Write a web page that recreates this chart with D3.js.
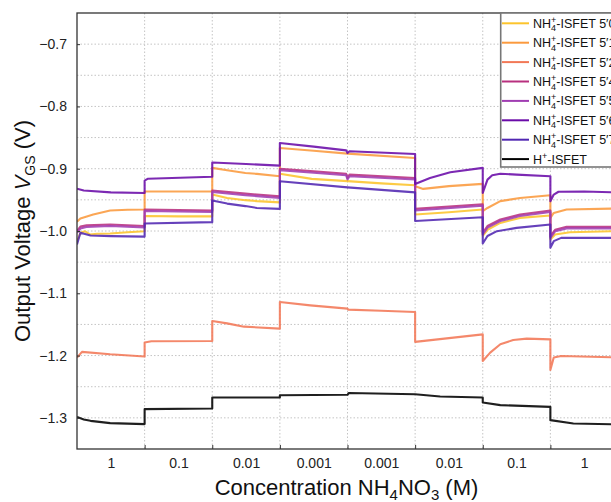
<!DOCTYPE html>
<html>
<head>
<meta charset="utf-8">
<script src="https://cdn.jsdelivr.net/npm/d3@7"></script>
<style>
  html, body { margin: 0; padding: 0; background: #fff; overflow: hidden; }
  svg { display: block; font-family: "Liberation Sans", Arial, sans-serif; }
  .grid line { stroke: #c4c4c4; stroke-width: 1; stroke-dasharray: 1.5 2; }
  .series { fill: none; stroke-width: 2.1; stroke-linejoin: round; opacity: 0.88; }
</style>
</head>
<body>
<svg id="chart" width="611" height="502"></svg>
<script>
// concentration of each step (x tick labels, one per segment)
const concLabels = ["1", "0.1", "0.01", "0.001", "0.001", "0.01", "0.1", "1"];

// legend names, same order as the series below
const seriesNames = ["5′0", "5′1", "5′2", "5′4", "5′5", "5′6", "5′7", "H+"];
const seriesColors = ["#fcc42c", "#fb9a3e", "#f27856", "#b8307f", "#a03db2", "#6a0ba8", "#5127b2", "#000000"];

// [segment time, V_GS in volts]
const isfet50 = [[0,-1.014],[0.02,-1.012],[0.05,-1.003],[0.12,-1.0005],[0.19,-1.0055],[0.3,-1.0045],[0.49,-1.004],[0.75,-1.002],[1,-1.0005],
  [1,-0.976],[1.5,-0.9765],[2,-0.9765],
  [2,-0.9415],[2.22,-0.947],[2.49,-0.9505],[2.66,-0.952],[3,-0.954],
  [3,-0.908],[3.47,-0.9163],[4,-0.920],[4.5,-0.9235],[5,-0.9266],
  [5,-0.9736],[5.5,-0.970],[6,-0.9656],
  [6,-1.008],[6.07,-0.998],[6.26,-0.987],[6.55,-0.979],[7,-0.975],
  [7,-1.0136],[7.07,-1.0056],[7.29,-1.002],[7.9,-1.0003],[8,-1.0]];

const isfet51 = [[0,-0.985],[0.05,-0.980],[0.24,-0.9736],[0.49,-0.967],[0.75,-0.966],[1,-0.9656],
  [1,-0.9367],[2,-0.9367],
  [2,-0.8987],[2.22,-0.9026],[2.49,-0.907],[2.66,-0.9083],[3,-0.912],
  [3,-0.8667],[3.5,-0.8712],[4,-0.8758],[5,-0.8827],
  [5,-0.928],[5.12,-0.9324],[5.5,-0.928],[6,-0.9244],
  [6,-0.968],[6.07,-0.963],[6.26,-0.952],[6.55,-0.947],[7,-0.9426],
  [7,-0.979],[7.05,-0.971],[7.24,-0.9656],[7.9,-0.964],[8,-0.964]];

const isfet52 = [[0,-1.2032],[0.074,-1.194],[0.49,-1.198],[1,-1.2016],
  [1,-1.179],[1.1,-1.177],[2,-1.1766],
  [2,-1.1446],[2.22,-1.1483],[2.47,-1.1536],[3,-1.1567],
  [3,-1.1141],[3.45,-1.1194],[4,-1.1247],[4.01,-1.1262],[4.5,-1.128],[5,-1.130],
  [5,-1.178],[6,-1.166],
  [6,-1.2086],[6.11,-1.1952],[6.26,-1.1819],[6.45,-1.175],[6.65,-1.1728],[7,-1.174],
  [7,-1.223],[7.05,-1.2032],[7.16,-1.2006],[7.9,-1.2027],[8,-1.203]];

const isfet54 = [[0,-1.0],[0.05,-0.993],[0.14,-0.991],[0.49,-0.9896],[1,-0.992],
  [1,-0.9656],[2,-0.967],
  [2,-0.935],[2.49,-0.940],[2.66,-0.9415],[3,-0.9444],
  [3,-0.900],[3.5,-0.904],[3.98,-0.908],[4,-0.9148],[4.03,-0.9095],[5,-0.9148],
  [5,-0.9645],[6,-0.957],
  [6,-1.003],[6.07,-0.992],[6.26,-0.9816],[6.55,-0.9736],[7,-0.967],
  [7,-1.0083],[7.07,-0.998],[7.24,-0.9933],[8,-0.9933]];

const isfet55 = [[0,-1.003],[0.05,-0.996],[0.14,-0.9935],[0.49,-0.992],[1,-0.9945],
  [1,-0.968],[2,-0.9695],
  [2,-0.9375],[2.49,-0.9425],[2.66,-0.944],[3,-0.947],
  [3,-0.9025],[3.5,-0.9065],[3.98,-0.9105],[4,-0.9173],[4.03,-0.912],[5,-0.9173],
  [5,-0.967],[6,-0.9595],
  [6,-1.0055],[6.07,-0.9945],[6.26,-0.984],[6.55,-0.976],[7,-0.9695],
  [7,-1.011],[7.07,-1.0005],[7.24,-0.9958],[8,-0.9958]];

const isfet56 = [[0,-0.932],[0.1,-0.935],[0.5,-0.938],[1,-0.939],
  [1,-0.919],[1.05,-0.916],[2,-0.913],
  [2,-0.890],[2.5,-0.8925],[3,-0.895],
  [3,-0.8587],[3.5,-0.8646],[3.98,-0.8705],[4,-0.8747],[4.03,-0.872],[5,-0.8763],
  [5,-0.9244],[5.22,-0.9148],[5.52,-0.9058],[6,-0.8987],
  [6,-0.9388],[6.07,-0.9175],[6.14,-0.9105],[6.26,-0.908],[6.5,-0.9095],[7,-0.912],
  [7,-0.9522],[7.05,-0.9415],[7.12,-0.937],[7.5,-0.9367],[8,-0.938]];

const isfet57 = [[0,-1.0217],[0.05,-1.0027],[0.2,-1.0072],[0.5,-1.0083],[1,-1.009],
  [1,-0.988],[2,-0.9858],
  [2,-0.951],[2.22,-0.956],[2.49,-0.960],[2.66,-0.963],[3,-0.9645],
  [3,-0.920],[4,-0.930],[5,-0.938],
  [5,-0.984],[6,-0.978],
  [6,-1.02],[6.07,-1.008],[6.21,-1.0003],[6.5,-0.995],[7,-0.9896],
  [7,-1.027],[7.05,-1.0163],[7.16,-1.011],[8,-1.011]];

const hIsfet = [[0,-1.2984],[0.1,-1.3025],[0.2,-1.3048],[0.49,-1.3085],[1,-1.310],
  [1,-1.286],[2,-1.2849],
  [2,-1.2673],[3,-1.2673],
  [3,-1.2636],[4,-1.263],[4.02,-1.260],[5,-1.262],
  [5.37,-1.2657],[6,-1.2673],
  [6,-1.2753],[6.26,-1.2796],[7,-1.2824],
  [7,-1.3037],[7.34,-1.309],[8,-1.3106]];

const allSeries = [isfet50, isfet51, isfet52, isfet54, isfet55, isfet56, isfet57, hIsfet];

const svg = d3.select("#chart");
const plotLeft = 77, plotTop = 13, plotRight = 618, plotBottom = 449;

const x = d3.scaleLinear().domain([0, concLabels.length]).range([plotLeft, plotRight]);
const y = d3.scaleLinear().domain([-1.35, -0.65]).range([plotBottom, plotTop]);

// grid
const grid = svg.append("g").attr("class", "grid");
grid.selectAll(".hg")
  .data(d3.range(-1.30, -0.66, 0.05))
  .join("line")
  .attr("x1", plotLeft).attr("x2", plotRight)
  .attr("y1", d => y(d)).attr("y2", d => y(d));
grid.selectAll(".vg")
  .data(d3.range(1, concLabels.length))
  .join("line")
  .attr("x1", d => x(d)).attr("x2", d => x(d))
  .attr("y1", plotTop).attr("y2", plotBottom);

// series
svg.append("clipPath").attr("id", "plotclip")
  .append("rect").attr("x", plotLeft).attr("y", plotTop)
  .attr("width", plotRight - plotLeft).attr("height", plotBottom - plotTop);

const line = d3.line().x(d => x(d[0])).y(d => y(d[1]));
svg.append("g").attr("clip-path", "url(#plotclip)")
  .selectAll("path")
  .data(allSeries)
  .join("path")
  .attr("class", "series")
  .attr("stroke", (d, i) => seriesColors[i])
  .attr("d", line);

// axes
const yAxis = d3.axisLeft(y)
  .tickValues(d3.range(-1.3, -0.69, 0.1))
  .tickFormat(d3.format(".1f"))
  .tickSizeInner(-3).tickSizeOuter(0).tickPadding(10);
const gy = svg.append("g").attr("transform", `translate(${plotLeft},0)`).call(yAxis);
gy.selectAll("text").style("font-size", "14px").attr("fill", "#222");
gy.select(".domain").remove();
gy.selectAll(".tick line").attr("stroke", "#333");

const xAxis = d3.axisBottom(x)
  .tickValues(d3.range(concLabels.length).map(i => i + 0.5))
  .tickFormat((d, i) => concLabels[i])
  .tickSize(0).tickPadding(9);
const gx = svg.append("g").attr("transform", `translate(0,${plotBottom})`).call(xAxis);
gx.selectAll("text").style("font-size", "14px").attr("fill", "#222");
gx.select(".domain").remove();

// short inward ticks at the step boundaries
const xTicks = d3.axisBottom(x).tickValues(d3.range(1, concLabels.length))
  .tickFormat("").tickSizeInner(-4).tickSizeOuter(0);
const gxt = svg.append("g").attr("transform", `translate(0,${plotBottom})`).call(xTicks);
gxt.select(".domain").remove();
gxt.selectAll(".tick line").attr("stroke", "#333");

// frame
svg.append("rect")
  .attr("x", plotLeft).attr("y", plotTop)
  .attr("width", plotRight - plotLeft).attr("height", plotBottom - plotTop)
  .attr("fill", "none").attr("stroke", "#333").attr("stroke-width", 1.3);

// axis titles
const xt = svg.append("text")
  .attr("x", (plotLeft + plotRight) / 2 - 1).attr("y", 495)
  .attr("text-anchor", "middle").style("font-size", "22px").attr("fill", "#111");
xt.append("tspan").text("Concentration NH");
xt.append("tspan").attr("dy", 5).style("font-size", "15px").text("4");
xt.append("tspan").attr("dy", -5).text("NO");
xt.append("tspan").attr("dy", 5).style("font-size", "15px").text("3");
xt.append("tspan").attr("dy", -5).text(" (M)");

const yt = svg.append("text")
  .attr("transform", `translate(30,${(plotTop + plotBottom) / 2}) rotate(-90)`)
  .attr("text-anchor", "middle").style("font-size", "22px").attr("fill", "#111");
yt.append("tspan").text("Output Voltage ");
yt.append("tspan").style("font-style", "italic").text("V");
yt.append("tspan").attr("dy", 5).style("font-size", "14px").text("GS");
yt.append("tspan").attr("dy", -5).text(" (V)");

// legend
const lg = svg.append("g");
lg.append("rect")
  .attr("x", 500.7).attr("y", plotTop).attr("width", 140).attr("height", 154)
  .attr("fill", "#fff").attr("stroke", "#777").attr("stroke-width", 1.6);
seriesNames.forEach((name, i) => {
  const yy = 23.3 + i * 19.4;
  lg.append("line")
    .attr("x1", 502).attr("x2", 529).attr("y1", yy).attr("y2", yy)
    .attr("stroke", seriesColors[i]).attr("stroke-width", 2);
  const t = lg.append("text").attr("x", 533).attr("y", yy + 4.5)
    .style("font-size", "12.5px").attr("fill", "#111");
  if (name === "H+") {
    t.append("tspan").text("H");
    t.append("tspan").attr("dy", -5).style("font-size", "9px").text("+");
    t.append("tspan").attr("dy", 5).text("-ISFET");
  } else {
    t.append("tspan").text("NH");
    t.append("tspan").attr("dy", 3.5).style("font-size", "9px").text("4");
    t.append("tspan").attr("dx", -5).attr("dy", -8.5).style("font-size", "9px").text("+");
    t.append("tspan").attr("dy", 5).text("-ISFET " + name);
  }
});
</script>
</body>
</html>
